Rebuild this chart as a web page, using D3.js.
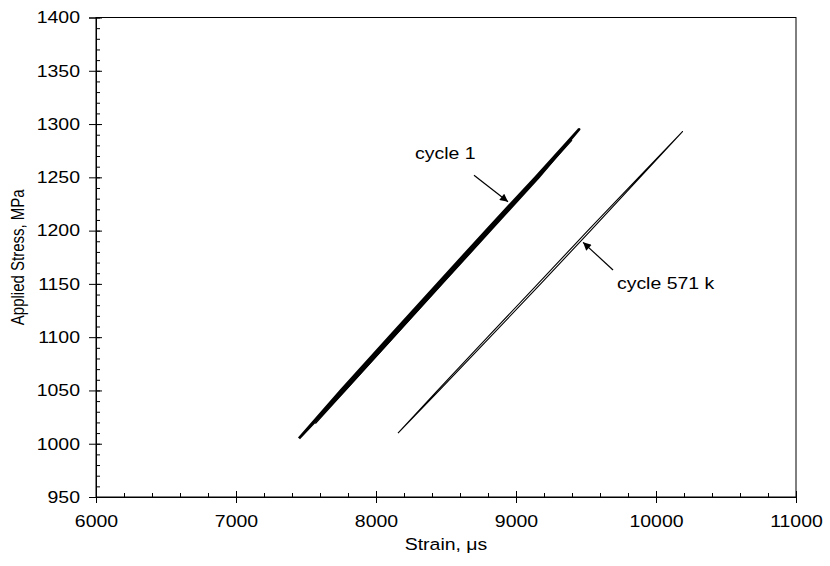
<!DOCTYPE html>
<html>
<head>
<meta charset="utf-8">
<script src="https://cdn.jsdelivr.net/npm/d3@7"></script>
<style>
  body { margin: 0; background: #fff; }
  svg { display: block; }
  text { font-family: 'Liberation Sans', Arial, sans-serif; fill: #000; }
</style>
</head>
<body>
<div id="chart"></div>
<script>
// strain values are in microstrain, stress in MPa
var cycle1Stress = [1005, 1050, 1100, 1150, 1200, 1250, 1295];
var cycle1Load = [7450, 7772, 8120, 8466, 8813, 9160, 9450];
var cycle1Unload = [7450, 7750, 8094, 8440, 8787, 9140, 9450];
// first loading ramp, slightly offset from the settled loop
var cycle1FirstStress = [1019, 1100, 1200, 1285];
var cycle1First = [7567, 8127, 8815, 9400];

var cycle571Stress = [1010, 1050, 1100, 1150, 1200, 1250, 1293];
var cycle571Load = [8157, 8452, 8815, 9176, 9533, 9886, 10189];
var cycle571Unload = [8157, 8440, 8797, 9156, 9513, 9876, 10189];

var xTicks = [6000, 7000, 8000, 9000, 10000, 11000];
var yTicks = [950, 1000, 1050, 1100, 1150, 1200, 1250, 1300, 1350, 1400];

// annotation labels: text anchor and arrow tail/tip in data units
var labels = ['cycle 1', 'cycle 571 k'];
var labelAt = [[8279, 1267], [9721, 1145]];
var arrowFrom = [[8700, 1252], [9693, 1163]];
var arrowTo = [[8943, 1227], [9479, 1189]];

var W = 830, H = 566;
var margin = { top: 17.5, right: 34, bottom: 69, left: 96 },
  width = W - margin.left - margin.right,
  height = H - margin.top - margin.bottom;
var stretch = 1.18; // text in the source figure is drawn a bit wide

var svg = d3.select('#chart').append('svg').attr('width', W).attr('height', H);
var g = svg.append('g')
  .attr('transform', 'translate(' + margin.left + ',' + margin.top + ')');

var x = d3.scaleLinear().domain([6000, 11000]).range([0, width]);
var y = d3.scaleLinear().domain([950, 1400]).range([height, 0]);

// frame
g.append('rect')
  .attr('width', width)
  .attr('height', height)
  .attr('fill', 'none')
  .attr('stroke', '#000')
  .attr('stroke-width', 1);

// minor ticks, inside
g.append('g')
  .attr('transform', 'translate(0,' + height + ')')
  .call(d3.axisBottom(x).tickValues(d3.range(6000, 11001, 200)).tickSize(-4).tickFormat(''))
  .call(function(a) { a.select('.domain').remove(); });
g.append('g')
  .call(d3.axisLeft(y).tickValues(d3.range(950, 1401, 10)).tickSize(-4).tickFormat(''))
  .call(function(a) { a.select('.domain').remove(); });

// major ticks cross the axis
g.append('g')
  .attr('transform', 'translate(0,' + height + ')')
  .call(d3.axisBottom(x).tickValues(xTicks).tickSize(-6).tickFormat(''))
  .call(function(a) { a.select('.domain').remove(); });
g.append('g')
  .call(d3.axisLeft(y).tickValues(yTicks).tickSize(-6).tickFormat(''))
  .call(function(a) { a.select('.domain').remove(); });

var xAxis = g.append('g')
  .attr('transform', 'translate(0,' + height + ')')
  .call(d3.axisBottom(x).tickValues(xTicks).tickSize(6).tickPadding(12).tickFormat(d3.format('d')));
var yAxis = g.append('g')
  .call(d3.axisLeft(y).tickValues(yTicks).tickSize(7).tickPadding(9).tickFormat(d3.format('d')));

[xAxis, yAxis].forEach(function(a) {
  a.select('.domain').attr('stroke', '#000');
  a.selectAll('.tick line').attr('stroke', '#000');
  a.selectAll('text').style('font-size', '16.5px').attr('font-family', null);
});
xAxis.selectAll('text')
  .attr('transform', 'scale(' + stretch + ',1)');
yAxis.selectAll('text')
  .attr('x', -16 / stretch)
  .attr('transform', 'scale(' + stretch + ',1)');

// axis titles
svg.append('text')
  .attr('text-anchor', 'middle')
  .attr('transform', 'translate(' + (margin.left + width / 2) + ',' + (H - 16) + ') scale(' + stretch + ',1)')
  .style('font-size', '16.5px')
  .text('Strain, μs');

svg.append('text')
  .attr('text-anchor', 'middle')
  .attr('transform', 'translate(24,' + (margin.top + height / 2) + ') rotate(-90) scale(1,' + (stretch + 0.1) + ')')
  .style('font-size', '15px')
  .text('Applied Stress, MPa');

// loops
var line = d3.line()
  .x(function(d) { return x(d[0]); })
  .y(function(d) { return y(d[1]); });

function loop(stress, load, unload) {
  var up = stress.map(function(s, i) { return [load[i], s]; });
  var down = stress.map(function(s, i) { return [unload[i], s]; }).reverse();
  return up.concat(down);
}

var plot = g.append('g').attr('fill', 'none').attr('stroke', '#000');

plot.append('path')
  .attr('d', line(cycle1FirstStress.map(function(s, i) { return [cycle1First[i], s]; })))
  .attr('stroke-width', 1.2);

plot.append('path')
  .attr('d', line(loop(cycle1Stress, cycle1Load, cycle1Unload)))
  .attr('stroke-width', 2.8)
  .attr('stroke-linejoin', 'round');

plot.append('path')
  .attr('d', line(loop(cycle571Stress, cycle571Load, cycle571Unload)))
  .attr('stroke-width', 1.1)
  .attr('stroke-linejoin', 'round');

// arrows
svg.append('defs').append('marker')
  .attr('id', 'head')
  .attr('viewBox', '0 0 10 10')
  .attr('refX', 10)
  .attr('refY', 5)
  .attr('markerWidth', 10)
  .attr('markerHeight', 8)
  .attr('markerUnits', 'userSpaceOnUse')
  .attr('orient', 'auto')
  .append('path')
  .attr('d', 'M0,0L10,5L0,10z')
  .attr('fill', '#000');

labels.forEach(function(t, i) {
  g.append('line')
    .attr('x1', x(arrowFrom[i][0]))
    .attr('y1', y(arrowFrom[i][1]))
    .attr('x2', x(arrowTo[i][0]))
    .attr('y2', y(arrowTo[i][1]))
    .attr('stroke', '#000')
    .attr('stroke-width', 1.2)
    .attr('marker-end', 'url(#head)');

  g.append('text')
    .attr('transform', 'translate(' + x(labelAt[i][0]) + ',' + y(labelAt[i][1]) + ') scale(' + stretch + ',1)')
    .style('font-size', '16.5px')
    .text(t);
});
</script>
</body>
</html>
